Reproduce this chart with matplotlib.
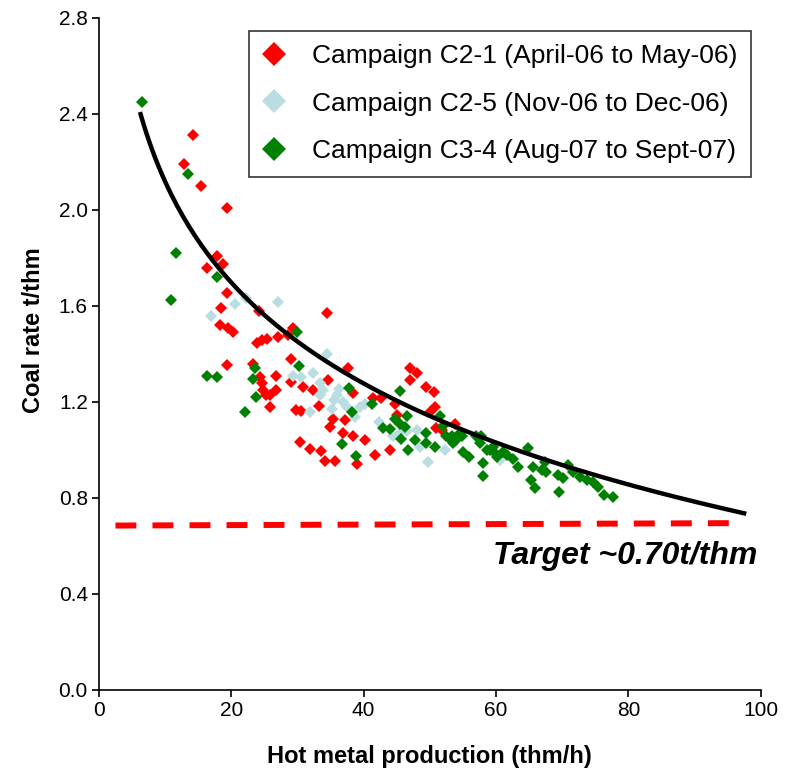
import matplotlib
matplotlib.use('Agg')
import matplotlib.pyplot as plt
import numpy as np

plt.rcParams['font.family'] = ['Liberation Sans', 'DejaVu Sans']

# Campaign C2-1 (April-06 to May-06)
c21_x = [14.2, 12.9, 15.4, 19.3, 17.9, 18.7, 16.3, 19.3, 18.5, 24.2, 18.3, 19.5, 20.3,
         23.9, 24.6, 25.4, 27.1, 29.4, 28.6, 34.4, 19.3, 23.3, 29.1, 37.6, 24.3, 24.6,
         24.8, 25.3, 26.8, 26.8, 25.8, 25.8, 29.1, 30.9, 34.6, 32.3, 29.8, 30.6, 33.3,
         35.3, 34.9, 36.9, 38.4, 30.4, 31.9, 33.5, 34.2, 35.7, 38.4, 37.2, 39.0, 47.0,
         48.0, 47.0, 49.4, 50.7, 50.8, 50.0, 53.8, 41.4, 42.7, 44.7, 45.0, 40.2, 41.7,
         44.0, 51.0, 51.8]
c21_y = [2.31, 2.19, 2.10, 2.01, 1.81, 1.775, 1.757, 1.655, 1.59, 1.58, 1.52, 1.51, 1.49,
         1.444, 1.458, 1.462, 1.47, 1.507, 1.479, 1.57, 1.354, 1.36, 1.379, 1.342, 1.305, 1.278,
         1.25, 1.23, 1.308, 1.25, 1.23, 1.18, 1.285, 1.264, 1.29, 1.25, 1.167, 1.164, 1.183,
         1.13, 1.097, 1.07, 1.056, 1.032, 1.003, 0.996, 0.954, 0.954, 1.236, 1.125, 0.94, 1.34,
         1.32, 1.29, 1.264, 1.243, 1.18, 1.16, 1.11, 1.215, 1.215, 1.19, 1.146, 1.04, 0.98,
         1.0, 1.09, 1.083]

# Campaign C2-5 (Nov-06 to Dec-06)
c25_x = [16.9, 20.5, 22.2, 27.1, 34.5, 29.4, 30.6, 32.3, 33.4, 33.9, 33.4, 31.9, 36.3,
         36.9, 38.7, 39.4, 40.2, 37.5, 42.4, 44.5, 48.0, 48.5, 49.7, 52.3, 60.6, 45.5,
         46.5, 35.5, 36.0, 35.2]
c25_y = [1.56, 1.61, 1.635, 1.615, 1.40, 1.31, 1.305, 1.322, 1.278, 1.25, 1.23, 1.16, 1.254,
         1.20, 1.136, 1.18, 1.19, 1.18, 1.118, 1.056, 1.083, 1.014, 0.951, 1.0, 0.958, 1.07,
         1.08, 1.21, 1.23, 1.17]

# Campaign C3-4 (Aug-07 to Sept-07)
c34_x = [6.5, 13.4, 11.7, 17.8, 10.9, 16.3, 17.8, 23.6, 30.0, 30.2, 23.3, 23.8, 22.1,
         36.7, 37.8, 38.3, 38.9, 45.5, 41.3, 42.9, 44.7, 45.5, 46.2, 44.0, 46.5, 45.7,
         46.7, 47.7, 49.5, 49.5, 50.8, 51.5, 53.3, 54.0, 54.8, 53.5, 55.0, 56.0, 57.0,
         57.6, 58.6, 59.8, 58.0, 58.0, 61.7, 62.6, 63.3, 64.9, 65.6, 65.3, 65.9, 66.9,
         67.6, 67.4, 69.6, 69.4, 70.1, 70.9, 71.6, 72.7, 73.7, 74.7, 75.4, 76.4, 77.7,
         59.1, 59.6, 57.8, 52.0, 52.5, 53.0, 54.5, 60.2, 61.0]
c34_y = [2.449, 2.15, 1.82, 1.72, 1.625, 1.308, 1.305, 1.34, 1.49, 1.35, 1.297, 1.222, 1.157,
         1.025, 1.257, 1.16, 0.975, 1.246, 1.19, 1.09, 1.13, 1.11, 1.095, 1.086, 1.14, 1.046,
         1.0, 1.04, 1.07, 1.028, 1.014, 1.14, 1.056, 1.04, 1.056, 1.028, 0.993, 0.972, 1.056,
         1.028, 1.0, 0.986, 0.944, 0.892, 0.98, 0.962, 0.93, 1.01, 0.93, 0.875, 0.84, 0.917,
         0.91, 0.951, 0.826, 0.896, 0.882, 0.9375, 0.91, 0.889, 0.875, 0.868, 0.847, 0.8125, 0.806,
         1.0, 1.014, 1.06, 1.10, 1.06, 1.045, 1.07, 0.97, 0.99]

# logarithmic trend y = a + b*ln(x)
trend_a = 3.516
trend_b = -0.607
trend_xmin, trend_xmax = 6.3, 97.5

# target line
target_x = [2.5, 96.0]
target_y = [0.685, 0.695]

fig = plt.figure(figsize=(7.85, 7.77), dpi=100)
ax = fig.add_axes([0.126, 0.112, 0.843, 0.865])

ms = 6
ax.plot(c21_x, c21_y, 'D', color='#FF0000', ms=ms, mew=0, label='Campaign C2-1 (April-06 to May-06)')
ax.plot(c25_x, c25_y, 'D', color='#BADDE2', ms=ms, mew=0, label='Campaign C2-5 (Nov-06 to Dec-06)')
ax.plot(c34_x, c34_y, 'D', color='#008000', ms=ms, mew=0, label='Campaign C3-4 (Aug-07 to Sept-07)')

tx = np.linspace(trend_xmin, trend_xmax, 200)
ax.plot(tx, trend_a + trend_b * np.log(tx), color='black', lw=3.2, zorder=4)

ax.plot(target_x, target_y, color='#FF0000', lw=4.3, linestyle=(0, (3.5, 2.7)),
        dash_capstyle='butt', zorder=4)
ax.text(99.5, 0.56, 'Target ~0.70t/thm', ha='right', va='center', fontsize=23,
        fontweight='bold', fontstyle='italic')

ax.set_xlim(0, 100)
ax.set_ylim(0, 2.8)
ax.set_xticks(np.arange(0, 101, 20))
ax.set_yticks(np.arange(0, 2.81, 0.4))
ax.set_yticklabels(['%.1f' % v for v in np.arange(0, 2.81, 0.4)])
ax.tick_params(direction='out', length=5, width=1.2, labelsize=15, pad=3)
for s in ['top', 'right']:
    ax.spines[s].set_visible(False)
for s in ['left', 'bottom']:
    ax.spines[s].set_linewidth(1.2)

ax.set_xlabel('Hot metal production (thm/h)', fontsize=17, fontweight='bold', labelpad=18)
ax.set_ylabel('Coal rate t/thm', fontsize=17, fontweight='bold')
ax.yaxis.set_label_coords(-0.082, 0.536)

leg = ax.legend(loc='upper right', bbox_to_anchor=(0.985, 0.981), fontsize=19, markerscale=2.0,
                frameon=True, fancybox=False, edgecolor='black', borderpad=0.5,
                labelspacing=0.9, handletextpad=1.0, handlelength=0.9, borderaxespad=0)
leg.get_frame().set_linewidth(1.2)

fig.savefig('out.png', dpi=100)
